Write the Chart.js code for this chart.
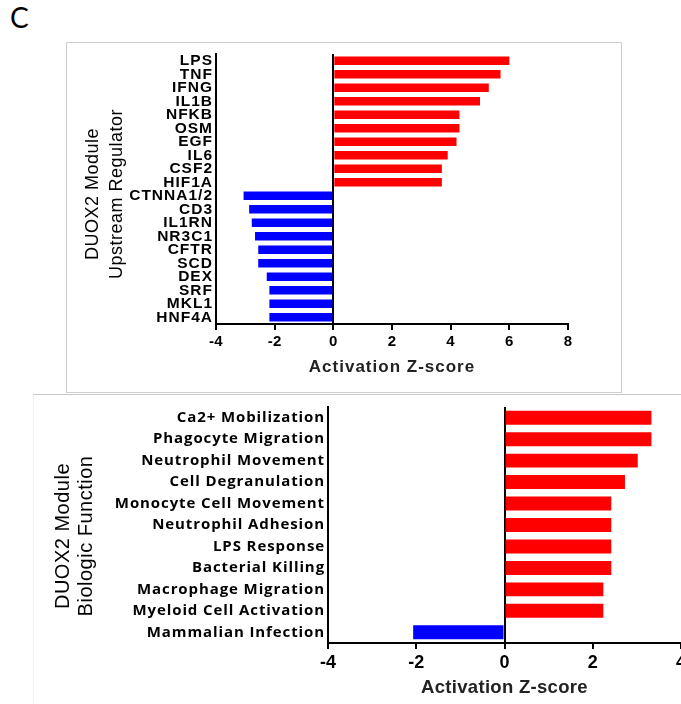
<!DOCTYPE html>
<html>
<head>
<meta charset="utf-8">
<script src="https://cdn.jsdelivr.net/npm/chart.js@4.4.0/dist/chart.umd.min.js"></script>
<style>
  html, body { margin: 0; padding: 0; background: #fff; width: 681px; height: 704px; overflow: hidden; position: relative; }
  #lab { position: absolute; left: 10px; top: 0px; font-family: Lato, "Open Sans", sans-serif; font-size: 28px; color: #000; }
  #f1 { position: absolute; left: 66px; top: 42px; width: 554px; height: 349px; border: 1px solid #cfcfcf; }
  #f2 { position: absolute; left: 33px; top: 394px; width: 700px; height: 400px; border-top: 1px solid #c8c8c8; border-left: 1px solid #f0f0f0; }
  #w1 { position: absolute; left: 67px; top: 43px; width: 554px; height: 349px; }
  #w2 { position: absolute; left: 33px; top: 394px; width: 648px; height: 310px; }
</style>
</head>
<body>
<div id="lab">C</div>
<div id="f1"></div>
<div id="f2"></div>
<div id="w1"><canvas id="c1"></canvas></div>
<div id="w2"><canvas id="c2"></canvas></div>
<script>
// ---- data ----
const upCategories = ['LPS','TNF','IFNG','IL1B','NFKB','OSM','EGF','IL6','CSF2','HIF1A','CTNNA1/2','CD3','IL1RN','NR3C1','CFTR','SCD','DEX','SRF','MKL1','HNF4A'];
const upValues = [6.0, 5.7, 5.3, 5.0, 4.3, 4.3, 4.2, 3.9, 3.7, 3.7, -3.06, -2.87, -2.78, -2.67, -2.56, -2.56, -2.27, -2.18, -2.18, -2.18];
const upTicks = [-4, -2, 0, 2, 4, 6, 8];

const bioCategories = ['Ca2+ Mobilization','Phagocyte Migration','Neutrophil Movement','Cell Degranulation','Monocyte Cell Movement','Neutrophil Adhesion','LPS Response','Bacterial Killing','Macrophage Migration','Myeloid Cell Activation','Mammalian Infection'];
const bioValues = [3.33, 3.33, 3.02, 2.73, 2.42, 2.42, 2.42, 2.42, 2.24, 2.24, -2.07];
const bioTicks = [-4, -2, 0, 2, 4];

const upTitle = ['DUOX2 Module', 'Upstream Regulator'];
const bioTitle = ['DUOX2 Module', 'Biologic Function'];
const xTitle = 'Activation Z-score';

const RED = '#ff0000', BLUE = '#0000ff';

// letter spacing + title offset per scale
const spacingPlugin = {
  id: 'spacing',
  afterLayout(chart, args, opts) {
    Object.values(chart.scales).forEach(s => {
      if (s._wrapped) return;
      s._wrapped = true;
      const sp = opts[s.id] || {};
      const dl = s.drawLabels, dt = s.drawTitle;
      s.drawLabels = function (ca) {
        const ctx = this.ctx; ctx.save(); ctx.letterSpacing = (sp.labels || 0) + 'px';
        dl.call(this, ca); ctx.restore();
      };
      s.drawTitle = function () {
        const ctx = this.ctx; const t = this.top, b = this.bottom, d = sp.dy || 0;
        this.top += d; this.bottom += d;
        ctx.save(); ctx.letterSpacing = (sp.title || 0) + 'px';
        dt.call(this); ctx.restore();
        this.top = t; this.bottom = b;
      };
    });
  }
};

function makeChart(id, cats, vals, ticks, yTitle, cfg) {
  const colors = vals.map(v => v >= 0 ? RED : BLUE);
  return new Chart(document.getElementById(id), {
    type: 'bar',
    plugins: [spacingPlugin],
    data: { labels: cats, datasets: [{ data: vals, backgroundColor: colors, borderWidth: 0, barPercentage: cfg.barPct, categoryPercentage: 1 }] },
    options: {
      indexAxis: 'y',
      responsive: true,
      maintainAspectRatio: false,
      animation: false,
      events: [],
      layout: { padding: cfg.pad },
      plugins: { legend: { display: false }, tooltip: { enabled: false }, spacing: cfg.spacing },
      scales: {
        x: {
          type: 'linear',
          min: ticks[0], max: ticks[ticks.length - 1],
          afterBuildTicks: s => { s.ticks = ticks.map(v => ({ value: v })); },
          afterFit: s => { s.height = cfg.xHeight; s.paddingRight = 0; s.paddingLeft = 0; },
          ticks: { color: '#000', padding: cfg.xTickPad, font: { family: 'Liberation Sans, Arial', weight: 'bold', size: cfg.xTickSize }, maxRotation: 0 },
          grid: {
            color: c => (c.tick && c.tick.value === 0) ? '#000' : 'rgba(0,0,0,0)',
            tickColor: '#000', lineWidth: 2, tickLength: 6, drawTicks: true
          },
          border: { display: true, color: '#000', width: 2 },
          title: { display: true, text: xTitle, color: '#222', padding: { top: 0, bottom: cfg.xTitlePad }, font: { family: 'Liberation Sans, Arial', weight: 'bold', size: cfg.xTitleSize } }
        },
        y: {
          afterFit: s => { s.width = cfg.yWidth; },
          ticks: { color: '#000', padding: 3, autoSkip: false, font: cfg.yFont },
          grid: { display: false, drawTicks: false },
          border: { display: true, color: '#000', width: 2 },
          title: { display: true, text: yTitle, color: '#000', padding: { top: cfg.yTitlePad, bottom: 0 }, font: { family: 'Liberation Sans, Arial', size: cfg.yTitleSize, lineHeight: cfg.yTitleLH } }
        }
      }
    }
  });
}

makeChart('c1', upCategories, upValues, upTicks, upTitle, {
  barPct: 0.63,
  pad: { top: 11, right: 53, bottom: 0, left: 0 },
  xHeight: 68, xTickPad: 3, xTickSize: 15, xTitlePad: 14, xTitleSize: 17,
  yWidth: 149,
  yFont: { family: 'Liberation Sans, Arial', weight: 'bold', size: 15.5, lineHeight: 1 },
  yTitlePad: 14, yTitleSize: 18, yTitleLH: 1.333,
  spacing: { x: { labels: 0.3, title: 1 }, y: { labels: 1, title: 0.5, dy: 5 } }
});

makeChart('c2', bioCategories, bioValues, bioTicks, bioTitle, {
  barPct: 0.65,
  pad: { top: 13, right: 0, bottom: 0, left: 0 },
  xHeight: 61, xTickPad: 3, xTickSize: 18, xTitlePad: 5, xTitleSize: 18.5,
  yWidth: 295,
  yFont: { family: 'Open Sans, Noto Sans', weight: 'bold', size: 15, lineHeight: 1 },
  yTitlePad: 18.5, yTitleSize: 20, yTitleLH: 1.15,
  spacing: { x: { labels: 0, title: 0.3 }, y: { labels: 0.9, title: 0.5, dy: 11 } }
});
</script>
</body>
</html>
